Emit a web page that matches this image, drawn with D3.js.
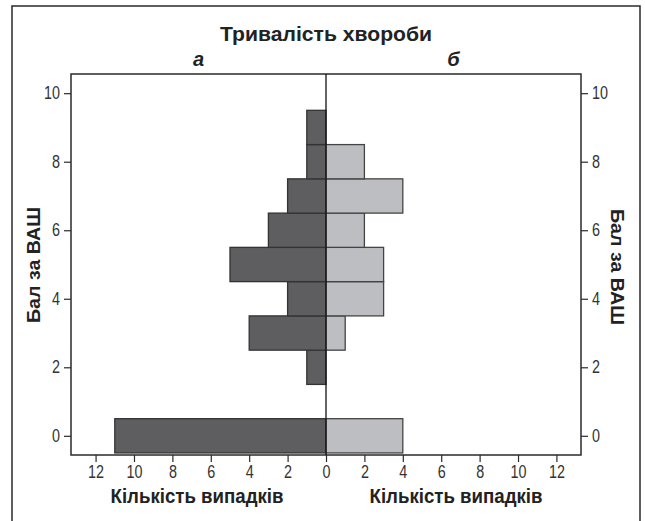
<!DOCTYPE html>
<html><head><meta charset="utf-8">
<script src="https://cdn.jsdelivr.net/npm/d3@7/dist/d3.min.js"></script>
<style>
body{margin:0;background:#fff;}
svg{display:block;}
.narrow{font-family:"Liberation Sans Narrow","Arial Narrow","Liberation Sans",sans-serif;}
.bold{font-family:"Liberation Sans",Arial,sans-serif;font-weight:bold;}
</style></head>
<body>
<svg id="c" width="645" height="521"></svg>
<script>
const scores = [0,1,2,3,4,5,6,7,8,9,10];
const countsA = [11,0,1,4,2,5,3,2,1,1,0];
const countsB = [4,0,0,1,3,3,2,4,2,0,0];
const xTicks = [-12,-10,-8,-6,-4,-2,0,2,4,6,8,10,12];
const yTicks = [0,2,4,6,8,10];
const title = "Тривалість хвороби";
const panelLabels = ["а","б"];
const yLabel = "Бал за ВАШ";
const xLabel = "Кількість випадків";

const svg = d3.select("#c");
const L=71,R=581,T=74,B=455;
const x = d3.scaleLinear().domain([-13.28,13.28]).range([L,R]);
const y = d3.scaleLinear().domain([-0.56,10.56]).range([B,T]);
const ink="#2a2a2a";

function squeeze(sel, f){
  sel.each(function(){
    const w=this.getComputedTextLength();
    d3.select(this).attr("textLength",w*f).attr("lengthAdjust","spacingAndGlyphs");
  });
}
function fit(sel, len){
  sel.attr("textLength",len).attr("lengthAdjust","spacingAndGlyphs");
}

// outer frame (open at bottom)
svg.append("path").attr("d","M12,530V6H640V530").attr("fill","none").attr("stroke",ink).attr("stroke-width",1.5);

// title
svg.append("text").attr("class","bold").attr("x",326).attr("y",41).attr("text-anchor","middle")
  .attr("font-size",21).attr("fill","#222").text(title).call(fit,212);
svg.append("text").attr("class","bold").attr("x",(x(-13.28)+x(0))/2).attr("y",66).attr("text-anchor","middle")
  .attr("font-size",20).attr("font-style","italic").attr("fill","#222").text(panelLabels[0]);
svg.append("text").attr("class","bold").attr("x",(x(0)+x(13.28))/2).attr("y",66).attr("text-anchor","middle")
  .attr("font-size",20).attr("font-style","italic").attr("fill","#222").text(panelLabels[1]);

// plot box
svg.append("rect").attr("x",L).attr("y",T).attr("width",R-L).attr("height",B-T)
  .attr("fill","#fff").attr("stroke",ink).attr("stroke-width",1.5);

const bw = Math.abs(y(1)-y(0));
// bars A (left)
svg.append("g").selectAll("rect").data(scores.map((s,i)=>({s,v:countsA[i]})).filter(d=>d.v>0))
  .join("rect")
  .attr("x",d=>x(-d.v)).attr("width",d=>x(0)-x(-d.v))
  .attr("y",d=>y(d.s+0.5)).attr("height",bw)
  .attr("fill","#5e5e61").attr("stroke","#333").attr("stroke-width",1.3);
// bars B (right)
svg.append("g").selectAll("rect").data(scores.map((s,i)=>({s,v:countsB[i]})).filter(d=>d.v>0))
  .join("rect")
  .attr("x",x(0)).attr("width",d=>x(d.v)-x(0))
  .attr("y",d=>y(d.s+0.5)).attr("height",bw)
  .attr("fill","#bdbec2").attr("stroke","#444").attr("stroke-width",1.3);

// center line
svg.append("line").attr("x1",x(0)).attr("x2",x(0)).attr("y1",T).attr("y2",B)
  .attr("stroke","#111").attr("stroke-width",1.3);

// axes
function styleAxis(g){
  g.attr("font-family",null).attr("font-size",null);
  g.select(".domain").remove();
  g.selectAll(".tick line").attr("stroke",ink).attr("stroke-width",1.2);
  g.selectAll(".tick text").attr("class","narrow").attr("font-size",17.5).attr("fill","#333").call(squeeze,0.82);
}
svg.append("g").attr("transform",`translate(0,${B})`)
  .call(d3.axisBottom(x).tickValues(xTicks).tickFormat(d=>Math.abs(d)).tickSize(7).tickPadding(4))
  .call(styleAxis);
svg.append("g").attr("transform",`translate(${L},0)`)
  .call(d3.axisLeft(y).tickValues(yTicks).tickSize(7).tickPadding(4))
  .call(styleAxis);
svg.append("g").attr("transform",`translate(${R},0)`)
  .call(d3.axisRight(y).tickValues(yTicks).tickSize(7).tickPadding(4))
  .call(styleAxis);

// axis titles
svg.append("text").attr("class","bold").attr("font-size",18.5).attr("fill","#222")
  .attr("text-anchor","middle").attr("transform","translate(40,265) rotate(-90)").text(yLabel).call(fit,116);
svg.append("text").attr("class","bold").attr("font-size",18.5).attr("fill","#222")
  .attr("text-anchor","middle").attr("transform","translate(611,267) rotate(90)").text(yLabel).call(fit,116);
svg.append("text").attr("class","bold").attr("font-size",20).attr("fill","#222")
  .attr("text-anchor","middle").attr("x",197).attr("y",503).text(xLabel).call(fit,173);
svg.append("text").attr("class","bold").attr("font-size",20).attr("fill","#222")
  .attr("text-anchor","middle").attr("x",456).attr("y",503).text(xLabel).call(fit,173);
</script>
</body></html>
